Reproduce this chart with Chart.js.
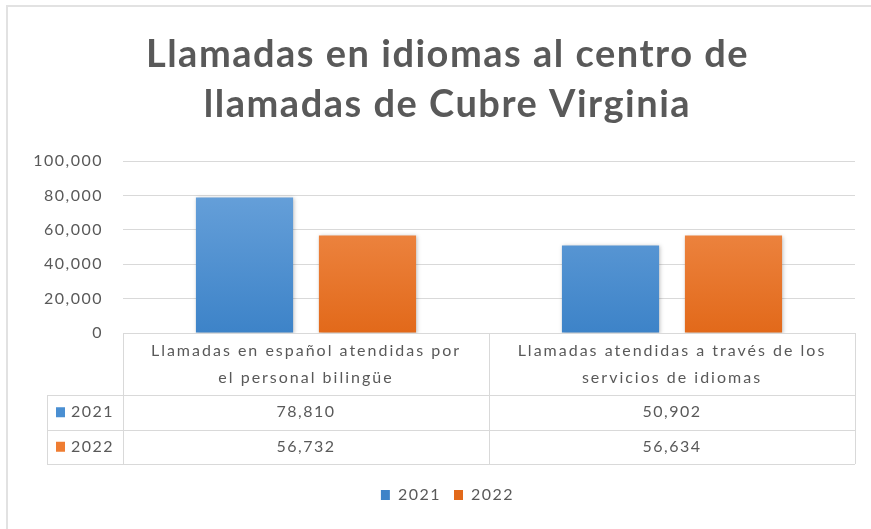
<!DOCTYPE html>
<html>
<head>
<meta charset="utf-8">
<script src="https://cdn.jsdelivr.net/npm/chart.js@4/dist/chart.umd.min.js"></script>
<style>
  html, body { margin: 0; padding: 0; background: #fff; }
  #wrap { position: relative; width: 871px; height: 529px; }
</style>
</head>
<body>
<div id="wrap"><canvas id="barChart" width="871" height="529"></canvas></div>
<script>
// datos del grafico
const categories = [
    ['Llamadas en español atendidas por', 'el personal bilingüe'],
    ['Llamadas atendidas a través de los', 'servicios de idiomas']
];
const seriesNames = ['2021', '2022'];
const values2021 = [78810, 50902];
const values2022 = [56732, 56634];
const yMax = 100000;
const yStep = 20000;

const gray = '#595959';
const lineGray = '#d9d9d9';
const spacing = '1.5px';

function barGradient(ctx, top, bottom) {
    const chart = ctx.chart;
    const area = chart.chartArea;
    if (!area) return top;
    const g = chart.ctx.createLinearGradient(0, area.top, 0, area.bottom);
    g.addColorStop(0, top);
    g.addColorStop(1, bottom);
    return g;
}

// espaciado de letras, titulo y leyenda un poco a la derecha, marco gris
const framePlugin = {
    id: 'frame',
    beforeUpdate(chart) { chart.ctx.letterSpacing = spacing; },
    afterLayout(chart) {
        const shift = 20;
        [chart.titleBlock, chart.legend].forEach((b) => {
            if (!b) return;
            b.left += shift;
            b.right += shift;
        });
    },
    beforeDraw(chart) {
        const c = chart.ctx;
        c.letterSpacing = spacing;
        c.save();
        c.strokeStyle = '#e2e2e2';
        c.lineWidth = 2;
        c.beginPath();
        c.moveTo(7, chart.height);
        c.lineTo(7, 6);
        c.lineTo(chart.width, 6);
        c.stroke();
        c.restore();
    }
};

// sombra suave en las barras
const shadowPlugin = {
    id: 'barShadow',
    beforeDatasetsDraw(chart) {
        chart.ctx.save();
        chart.ctx.shadowColor = 'rgba(0,0,0,0.25)';
        chart.ctx.shadowBlur = 4;
        chart.ctx.shadowOffsetX = 1;
        chart.ctx.shadowOffsetY = 1;
    },
    afterDatasetsDraw(chart) {
        chart.ctx.restore();
    }
};

// tabla de datos debajo del eje x
const dataTablePlugin = {
    id: 'dataTable',
    afterDraw(chart) {
        const c = chart.ctx;
        const xs = chart.scales.x;
        const area = chart.chartArea;
        const n = categories.length;
        const colW = (area.right - area.left) / n;
        const keyLeft = area.left - 76;
        const top = area.bottom;
        const headerH = 62;
        const rowH = 34.5;
        const bottom = top + headerH + rowH * 2;

        c.save();
        c.strokeStyle = lineGray;
        c.lineWidth = 1;
        c.beginPath();
        for (let i = 0; i <= n; i++) {
            const x = Math.round(area.left + colW * i) + 0.5;
            c.moveTo(x, top);
            c.lineTo(x, bottom);
        }
        c.moveTo(keyLeft + 0.5, top + headerH);
        c.lineTo(keyLeft + 0.5, bottom);
        for (let r = 0; r <= 2; r++) {
            const y = Math.round(top + headerH + rowH * r) + 0.5;
            c.moveTo(keyLeft, y);
            c.lineTo(area.right, y);
        }
        c.stroke();

        c.fillStyle = gray;
        c.font = '16px Lato';
        c.textAlign = 'center';
        c.textBaseline = 'middle';
        c.letterSpacing = '2px';
        categories.forEach((lines, i) => {
            const cx = xs.getPixelForValue(i);
            lines.forEach((t, k) => {
                c.fillText(t, cx, top + 18 + k * 27);
            });
        });

        c.letterSpacing = spacing;
        chart.data.datasets.forEach((ds, r) => {
            const cy = top + headerH + rowH * r + rowH / 2;
            c.fillStyle = ds.borderColor;
            c.fillRect(keyLeft + 9, cy - 5, 9, 10);
            c.fillStyle = gray;
            c.textAlign = 'left';
            c.fillText(ds.label, keyLeft + 24, cy);
            c.textAlign = 'center';
            ds.data.forEach((v, i) => {
                c.fillText(v.toLocaleString('en-US'), xs.getPixelForValue(i), cy);
            });
        });
        c.restore();
    }
};

const ctxBar = document.getElementById('barChart').getContext('2d');
const barChart = new Chart(ctxBar, {
    type: 'bar',
    data: {
        labels: categories,
        datasets: [{
            label: seriesNames[0],
            data: values2021,
            backgroundColor: (ctx) => barGradient(ctx, '#6fa6dd', '#3d83c8'),
            borderColor: '#4a8fd2',
            borderWidth: 0
        }, {
            label: seriesNames[1],
            data: values2022,
            backgroundColor: (ctx) => barGradient(ctx, '#f39558', '#e2691a'),
            borderColor: '#ef7d32',
            borderWidth: 0
        }]
    },
    options: {
        responsive: false,
        animation: false,
        layout: { padding: { left: 0, right: 16, top: 0, bottom: 16 } },
        datasets: {
            bar: { categoryPercentage: 0.672, barPercentage: 0.79 }
        },
        plugins: {
            title: {
                display: true,
                text: ['Llamadas en idiomas al centro de', 'llamadas de Cubre Virginia'],
                color: gray,
                font: { family: 'Lato', size: 38, weight: 'bold', lineHeight: 1.316 },
                padding: { top: 30, bottom: 31 }
            },
            legend: {
                position: 'bottom',
                labels: {
                    color: gray,
                    font: { family: 'Lato', size: 16 },
                    boxWidth: 9,
                    boxHeight: 10,
                    padding: 13
                }
            },
            tooltip: { enabled: false }
        },
        scales: {
            x: {
                grid: { display: false },
                border: { color: lineGray },
                ticks: { display: false },
                afterFit(scale) { scale.height = 141; }
            },
            y: {
                min: 0,
                max: yMax,
                ticks: {
                    stepSize: yStep,
                    color: gray,
                    font: { family: 'Lato', size: 16 },
                    padding: 20,
                    callback: (v) => v.toLocaleString('en-US')
                },
                grid: { color: lineGray, drawTicks: false },
                border: { display: false },
                afterFit(scale) { scale.width = 123; }
            }
        }
    },
    plugins: [framePlugin, shadowPlugin, dataTablePlugin]
});
</script>
</body>
</html>
